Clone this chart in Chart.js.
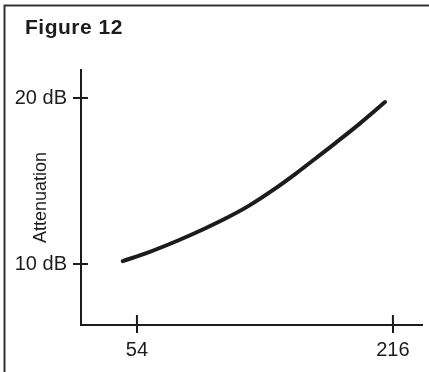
<!DOCTYPE html>
<html>
<head>
<meta charset="utf-8">
<script src="https://cdn.jsdelivr.net/npm/chart.js@4.4.1/dist/chart.umd.min.js"></script>
<style>
  html, body { margin: 0; padding: 0; background: #fff; }
  #wrap { width: 429px; height: 372px; }
</style>
</head>
<body>
<div id="wrap"><canvas id="c" width="429" height="372"></canvas></div>
<script>
const chartTitle = "Figure 12";
const yAxisTitle = "Attenuation";
const frequency = [45, 60, 80, 95, 110, 125, 140, 155, 167, 180, 195, 211];
const attenuationDb = [10.18, 10.66, 11.42, 12.05, 12.74, 13.52, 14.45, 15.48, 16.36, 17.32, 18.46, 19.76];
const xTickValues = [54, 216];
const yTickValues = [10, 20];
const yTickLabels = ["10 dB", "20 dB"];

const ink = "#1c1c1c";
const fontFam = "'Liberation Sans', Arial, Helvetica, sans-serif";

const points = frequency.map((f, i) => ({ x: f, y: attenuationDb[i] }));

const decor = {
  id: "decor",
  beforeDraw(chart) {
    const ctx = chart.ctx;
    ctx.save();
    ctx.fillStyle = "#fff";
    ctx.fillRect(0, 0, chart.width, chart.height);
    ctx.strokeStyle = "#333";
    ctx.lineWidth = 2;
    ctx.beginPath();
    ctx.moveTo(4.5, chart.height);
    ctx.lineTo(4.5, 5.5);
    ctx.lineTo(chart.width, 5.5);
    ctx.stroke();
    ctx.fillStyle = ink;
    ctx.font = "bold 21px " + fontFam;
    if ("letterSpacing" in ctx) ctx.letterSpacing = "0.5px";
    ctx.textBaseline = "alphabetic";
    ctx.textAlign = "left";
    ctx.fillText(chartTitle, 25, 34);
    ctx.restore();
  },
  afterDatasetsDraw(chart) {
    const ctx = chart.ctx;
    const xs = chart.scales.x, ys = chart.scales.y;
    const area = chart.chartArea;
    ctx.save();
    ctx.strokeStyle = ink;
    ctx.lineWidth = 2;
    ctx.beginPath();
    yTickValues.forEach(v => {
      const p = ys.getPixelForValue(v);
      ctx.moveTo(area.left, p);
      ctx.lineTo(area.left + 7, p);
    });
    xTickValues.forEach(v => {
      const p = xs.getPixelForValue(v);
      ctx.moveTo(p, area.bottom);
      ctx.lineTo(p, area.bottom - 10);
    });
    ctx.stroke();
    ctx.restore();
  }
};

new Chart(document.getElementById("c"), {
  type: "line",
  data: {
    datasets: [{
      data: points,
      borderColor: ink,
      borderWidth: 4,
      borderCapStyle: "round",
      pointRadius: 0,
      tension: 0.4,
      cubicInterpolationMode: "monotone",
      fill: false
    }]
  },
  options: {
    responsive: false,
    animation: false,
    events: [],
    layout: { padding: { top: 70, right: 7, bottom: 0, left: 0 } },
    plugins: { legend: { display: false }, tooltip: { enabled: false }, title: { display: false } },
    scales: {
      x: {
        type: "linear",
        min: 18.6,
        max: 234.4,
        afterBuildTicks(scale) { scale.ticks = xTickValues.map(v => ({ value: v })); },
        afterFit(scale) { scale.height = 47; },
        border: { display: true, color: ink, width: 2 },
        grid: { display: true, drawOnChartArea: false, drawTicks: true, tickLength: 8, color: ink, lineWidth: 2 },
        ticks: { color: ink, padding: 5, font: { family: fontFam, size: 20 }, maxRotation: 0, autoSkip: false,
          callback: v => String(v) }
      },
      y: {
        type: "linear",
        min: 6.33,
        max: 21.69,
        afterBuildTicks(scale) { scale.ticks = yTickValues.map(v => ({ value: v })); },
        afterFit(scale) { scale.width = 81; },
        border: { display: true, color: ink, width: 2 },
        grid: { display: true, drawOnChartArea: false, drawTicks: true, tickLength: 8, color: ink, lineWidth: 2 },
        ticks: { color: ink, padding: 6, font: { family: fontFam, size: 20 }, autoSkip: false,
          callback: v => yTickLabels[yTickValues.indexOf(v)] },
        title: { display: true, text: yAxisTitle, color: ink, font: { family: fontFam, size: 18 }, padding: { top: 30, bottom: 0 } }
      }
    }
  },
  plugins: [decor]
});
</script>
</body>
</html>
